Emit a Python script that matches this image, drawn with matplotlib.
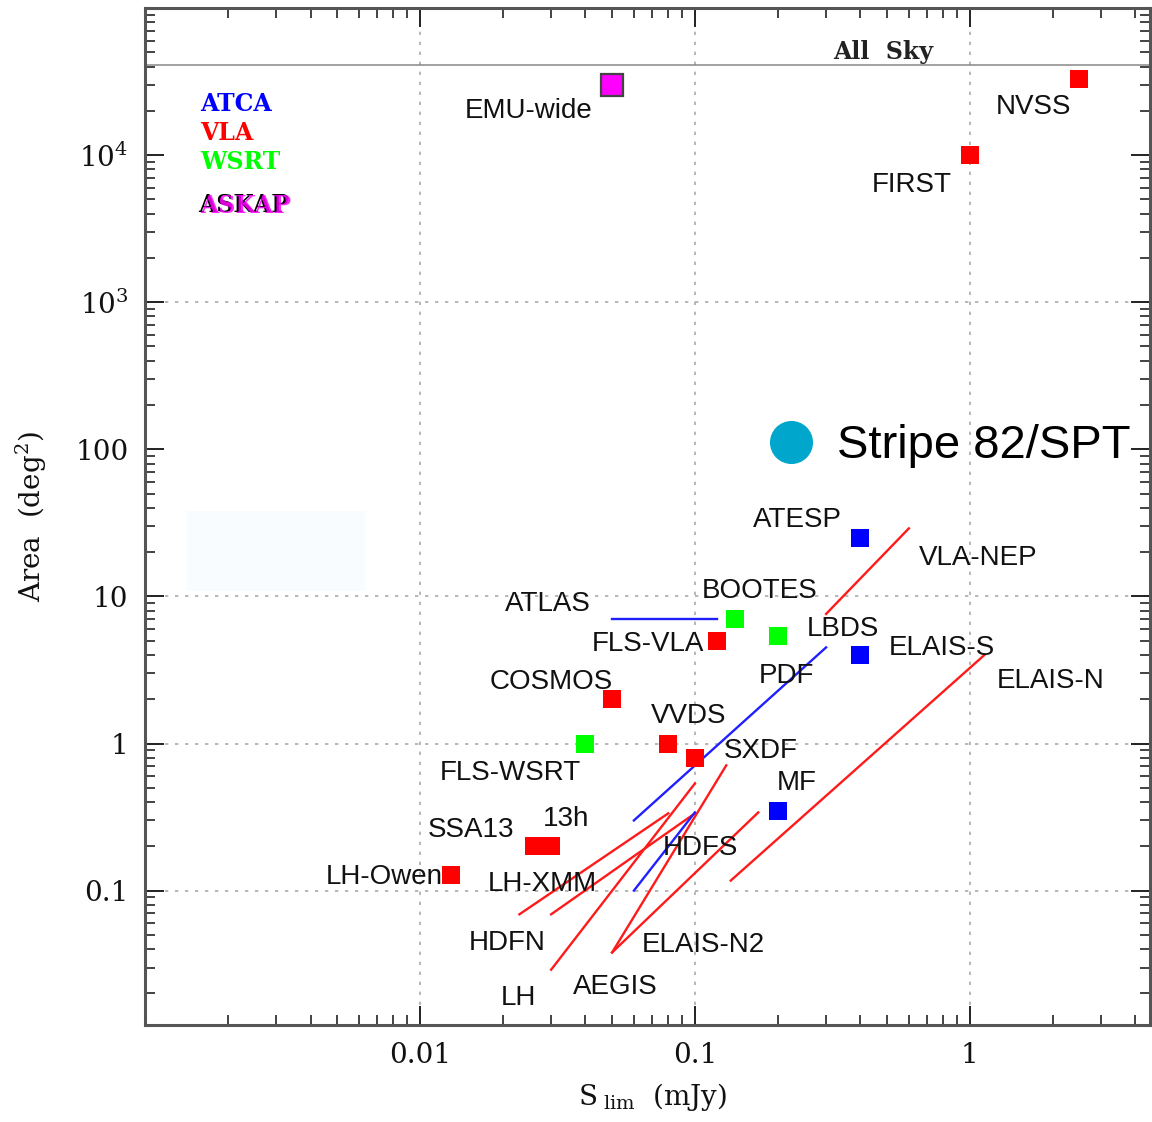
import matplotlib
matplotlib.use('Agg')
import matplotlib.pyplot as plt
import matplotlib.transforms as mtransforms
from matplotlib.ticker import NullFormatter, LogLocator

plt.rcParams['font.family'] = ['Liberation Sans', 'DejaVu Sans']
plt.rcParams['mathtext.fontset'] = 'dejavuserif'

# --- data: sensitivity limit (mJy) vs area (deg^2) ---
atca_names = ['ATESP', 'ELAIS-S', 'MF']
atca_x = [0.4, 0.4, 0.2]
atca_y = [25, 4.0, 0.35]

vla_names = ['NVSS', 'FIRST', 'FLS-VLA', 'COSMOS', 'VVDS', 'SXDF', 'SSA13', '13h', 'LH-Owen']
vla_x = [2.5, 1.0, 0.12, 0.05, 0.08, 0.1, 0.026, 0.03, 0.013]
vla_y = [33000, 10000, 5.0, 2.0, 1.0, 0.8, 0.2, 0.2, 0.128]

wsrt_names = ['BOOTES', 'PDF', 'FLS-WSRT']
wsrt_x = [0.14, 0.2, 0.04]
wsrt_y = [7.0, 5.4, 1.0]

askap_names = ['EMU-wide']
askap_x = [0.05]
askap_y = [30000]

# surveys with a range of depth: (x0, y0, x1, y1)
vla_ranges = {
    'VLA-NEP': (0.3, 7.6, 0.6, 29),
    'ELAIS-N': (0.135, 0.117, 1.13, 4.0),
    'HDFN': (0.023, 0.069, 0.08, 0.335),
    'LH-XMM': (0.03, 0.069, 0.1, 0.335),
    'LH': (0.03, 0.029, 0.1, 0.535),
    'AEGIS': (0.05, 0.038, 0.13, 0.71),
    'ELAIS-N2': (0.05, 0.038, 0.17, 0.34),
}
atca_ranges = {
    'ATLAS': (0.05, 7.0, 0.12, 7.0),
    'LBDS': (0.06, 0.3, 0.3, 4.5),
    'HDFS': (0.06, 0.1, 0.1, 0.34),
}

all_sky = 41253
stripe82_x, stripe82_y = 0.223, 112

# label anchor positions (left, baseline) in data coords
labels = {
    'EMU-wide': (0.0146, 17800), 'NVSS': (1.24, 18900), 'FIRST': (0.439, 5590),
    'ATESP': (0.162, 29.8), 'VLA-NEP': (0.65, 16.4), 'BOOTES': (0.106, 9.8),
    'ATLAS': (0.0204, 8.0), 'FLS-VLA': (0.0423, 4.28), 'LBDS': (0.255, 5.4),
    'ELAIS-S': (0.506, 4.02), 'PDF': (0.1707, 2.56), 'ELAIS-N': (1.248, 2.40),
    'COSMOS': (0.01786, 2.33), 'VVDS': (0.0692, 1.385), 'FLS-WSRT': (0.01178, 0.561),
    'SXDF': (0.1274, 0.791), 'MF': (0.1985, 0.48), '13h': (0.0281, 0.277),
    'SSA13': (0.01065, 0.23), 'HDFS': (0.0765, 0.1736), 'LH-Owen': (0.00454, 0.1103),
    'LH-XMM': (0.01758, 0.0989), 'HDFN': (0.015, 0.0393), 'ELAIS-N2': (0.0642, 0.0381),
    'AEGIS': (0.036, 0.0198), 'LH': (0.0196, 0.0167),
}

fig = plt.figure(figsize=(11.52, 11.22), dpi=100)
ax = fig.add_axes([145 / 1152, 97 / 1122, 1005 / 1152, 1017 / 1122])
ax.set_xscale('log')
ax.set_yscale('log')
ax.set_xlim(0.001, 4.52)
ax.set_ylim(0.0122, 1e5)

# faint box left over from the overlay
ax.fill_between([0.00142, 0.00629], 10.9, 38.2, color='#f9fcfe', lw=0, zorder=0)

# dotted grid (only where visible in the figure)
for v in [0.01, 0.1, 1]:
    ax.axvline(v, color='#aaaaaa', ls=(0, (2, 4)), lw=1.2, zorder=1)
for v in [0.1, 1, 10, 1000]:
    ax.axhline(v, color='#aaaaaa', ls=(0, (2, 4)), lw=1.2, zorder=1)
ax.axhline(all_sky, color='#888888', lw=1.1, zorder=1)

for x0, y0, x1, y1 in vla_ranges.values():
    ax.plot([x0, x1], [y0, y1], color='#ff1a1a', lw=1.7, zorder=2)
for x0, y0, x1, y1 in atca_ranges.values():
    ax.plot([x0, x1], [y0, y1], color='#2020ff', lw=1.7, zorder=2)

ax.plot(atca_x, atca_y, 's', color='#0000ff', ms=12.5, mew=0, zorder=3)
ax.plot(vla_x, vla_y, 's', color='#ff0000', ms=12.5, mew=0, zorder=3)
ax.plot(wsrt_x, wsrt_y, 's', color='#00ff00', ms=12.5, mew=0, zorder=3)
ax.plot(askap_x, askap_y, 's', color='#ff00ff', mec='#444444', ms=16, mew=1.6, zorder=3)

ax.plot([stripe82_x], [stripe82_y], 'o', color='#00a6cc', ms=31, mew=0, zorder=4)
ax.text(0.33, 87.4, 'Stripe 82/SPT', fontsize=34, color='black', zorder=4)

for name, (lx, ly) in labels.items():
    ax.text(lx, ly, name, fontsize=20, color='#111111', ha='left', va='baseline', zorder=4)

ax.text(0.317, 44700, 'All  Sky', fontsize=17, family='DejaVu Serif', weight='bold',
        color='#222222', va='baseline')

# telescope key
key_font = dict(fontsize=17, family='DejaVu Serif', weight='bold', va='baseline')
ax.text(0.00159, 19800, 'ATCA', color='#0000ff', **key_font)
ax.text(0.00159, 12600, 'VLA', color='#ff0000', **key_font)
ax.text(0.00159, 8010, 'WSRT', color='#00ff00', **key_font)
ax.text(0.00156, 4090, 'ASKAP', color='black', **key_font)
shift = mtransforms.offset_copy(ax.transData, fig=fig, x=2, y=-1, units='dots')
ax.text(0.00156, 4090, 'ASKAP', color='#ff00ff', transform=shift, alpha=0.85, **key_font)

# axes styling
for sp in ax.spines.values():
    sp.set_linewidth(2.2)
    sp.set_color('#555555')
ax.set_xticks([0.01, 0.1, 1], ['0.01', '0.1', '1'])
ax.set_yticks([0.1, 1, 10, 100, 1000, 10000],
              ['0.1', '1', '10', '100', '$10^3$', '$10^4$'])
ax.xaxis.set_minor_locator(LogLocator(subs=range(2, 10), numticks=20))
ax.yaxis.set_minor_locator(LogLocator(subs=range(2, 10), numticks=20))
ax.xaxis.set_minor_formatter(NullFormatter())
ax.yaxis.set_minor_formatter(NullFormatter())
ax.tick_params(which='both', direction='in', top=True, right=True, color='#222222')
ax.tick_params(which='major', length=14, width=1.4, pad=12, labelsize=20)
ax.tick_params(which='minor', length=7, width=1.2)
for lab in ax.get_xticklabels() + ax.get_yticklabels():
    lab.set_family('DejaVu Serif')
    lab.set_color('#111111')

ax.set_xlabel(r'S$_{\rm\ lim}$  (mJy)', fontsize=20, family='DejaVu Serif', color='#111111')
ax.set_ylabel(r'Area  (deg$^2$)', fontsize=20, family='DejaVu Serif', color='#111111')
ax.xaxis.set_label_coords(0.505, -0.055)
ax.yaxis.set_label_coords(-0.096, 0.5)

fig.savefig('out.png', dpi=100)
